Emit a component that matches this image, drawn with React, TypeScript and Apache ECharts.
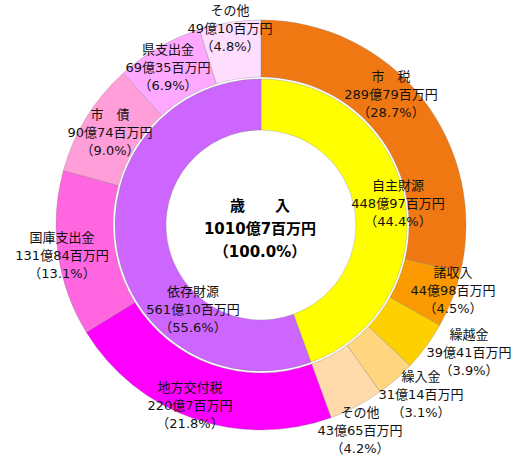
import React, { useEffect, useRef } from "react";
import * as echarts from "echarts";

// values in 百万円
const innerNames = ["自主財源", "依存財源"];
const innerValues = [44897, 56110];
const innerPercents = ["44.4", "55.6"];
const innerColors = ["#FFFF00", "#CC66FF"];

const outerNames = ["市　税", "諸収入", "繰越金", "繰入金", "その他", "地方交付税", "国庫支出金", "市　債", "県支出金", "その他"];
const outerValues = [28979, 4498, 3941, 3114, 4365, 22007, 13184, 9074, 6935, 4910];
const outerPercents = ["28.7", "4.5", "3.9", "3.1", "4.2", "21.8", "13.1", "9.0", "6.9", "4.8"];
const outerColors = ["#F07812", "#FA9A00", "#FFD000", "#FFD580", "#FFDAAA", "#FF00FF", "#FF66E0", "#FF9ED8", "#FFA8FF", "#FFDDFF"];

const totalLabel = "1010億7百万円";
const totalPercent = "100.0";

// label centre positions (px)
const outerLabelPos = [
  [391, 94], [453, 290], [469, 352], [421, 394], [360, 430],
  [190, 405], [62, 255], [110, 132], [168, 67], [230, 28],
];
const innerLabelPos = [[398, 203], [193, 309]];

const fmt = (v: number) => `${Math.floor(v / 100)}億${v % 100}百万円`;
const FONT = "'DejaVu Sans', 'Noto Sans CJK JP', sans-serif";

export default function App() {
  const ref = useRef<HTMLDivElement>(null);
  useEffect(() => {
    if (!ref.current) return;
    const chart = echarts.init(ref.current, null, { renderer: "svg" });
    const labelStyle = {
      show: true,
      position: "inside" as const,
      color: "#111",
      fontFamily: FONT,
      fontSize: 13,
      lineHeight: 18,
      align: "center" as const,
    };
    chart.setOption({
      animation: false,
      backgroundColor: "#fff",
      series: [
        {
          type: "pie",
          center: [261, 225],
          radius: [95, 146],
          startAngle: 90,
          clockwise: true,
          silent: true,
          itemStyle: { borderColor: "rgba(120,120,120,0.3)", borderWidth: 1 },
          label: {
            ...labelStyle,
            formatter: (p: any) => `${innerNames[p.dataIndex]}\n${fmt(innerValues[p.dataIndex])}\n（${innerPercents[p.dataIndex]}%）`,
          },
          labelLine: { show: false },
          labelLayout: (p: any) => ({
            x: innerLabelPos[p.dataIndex][0],
            y: innerLabelPos[p.dataIndex][1],
            align: "center",
            verticalAlign: "middle",
          }),
          data: innerValues.map((v, i) => ({ name: innerNames[i], value: v, itemStyle: { color: innerColors[i] } })),
        },
        {
          type: "pie",
          center: [261, 225],
          radius: [148, 205],
          startAngle: 90,
          clockwise: true,
          silent: true,
          itemStyle: { borderColor: "rgba(120,120,120,0.3)", borderWidth: 1 },
          label: {
            ...labelStyle,
            formatter: (p: any) => `${outerNames[p.dataIndex]}\n${fmt(outerValues[p.dataIndex])}\n（${outerPercents[p.dataIndex]}%）`,
          },
          labelLine: { show: false },
          labelLayout: (p: any) => ({
            x: outerLabelPos[p.dataIndex][0],
            y: outerLabelPos[p.dataIndex][1],
            align: "center",
            verticalAlign: "middle",
          }),
          data: outerValues.map((v, i) => ({ name: outerNames[i], value: v, itemStyle: { color: outerColors[i] } })),
        },
      ],
      graphic: [
        {
          type: "text",
          x: 260,
          y: 229,
          style: {
            text: `歳　　入\n${totalLabel}\n（${totalPercent}%）`,
            fill: "#000",
            font: `bold 15px ${FONT}`,
            lineHeight: 23,
            align: "center",
            verticalAlign: "middle",
          },
        },
      ],
    });
    return () => chart.dispose();
  }, []);
  return <div ref={ref} style={{ position: "absolute", left: 0, top: 0, width: 513, height: 456 }} />;
}
